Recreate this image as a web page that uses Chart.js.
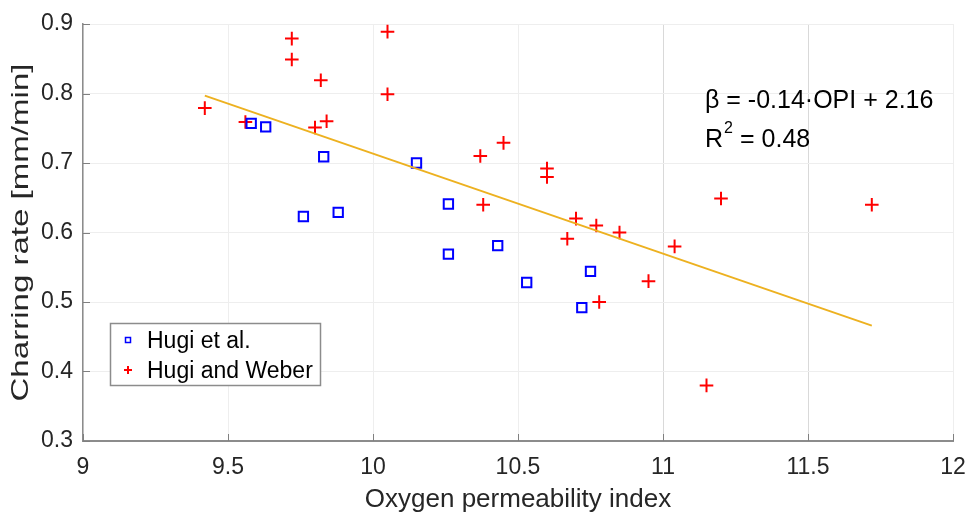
<!DOCTYPE html>
<html>
<head>
<meta charset="utf-8">
<script src="https://cdn.jsdelivr.net/npm/chart.js@4.4.1/dist/chart.umd.min.js"></script>
<style>
  html, body { margin: 0; padding: 0; background: #fff; }
  #wrap { width: 969px; height: 515px; }
</style>
</head>
<body>
<div id="wrap"><canvas id="chart" width="969" height="515"></canvas></div>
<script>
// Hugi et al. (blue squares)
const hugiEtAlX = [9.58, 9.63, 9.83, 9.76, 9.88, 10.15, 10.26, 10.26, 10.43, 10.53, 10.75, 10.72];
const hugiEtAlY = [0.757, 0.752, 0.709, 0.623, 0.629, 0.700, 0.641, 0.569, 0.581, 0.528, 0.544, 0.492];

// Hugi and Weber (red plus)
const hugiWeberX = [9.42, 9.56, 9.72, 9.72, 9.82, 9.80, 9.84, 10.05, 10.05, 10.37, 10.45, 10.38,
                    10.60, 10.60, 10.67, 10.70, 10.77, 10.85, 11.20, 11.72, 11.04, 10.95, 10.78, 11.15];
const hugiWeberY = [0.779, 0.759, 0.879, 0.849, 0.819, 0.751, 0.760, 0.889, 0.799, 0.710, 0.729, 0.640,
                    0.692, 0.680, 0.591, 0.620, 0.610, 0.600, 0.649, 0.640, 0.580, 0.530, 0.500, 0.380];

// fitted line end points
const fitX = [9.42, 11.72];
const fitY = [0.797, 0.466];

const xTicks = [9, 9.5, 10, 10.5, 11, 11.5, 12];
const yTicks = [0.3, 0.4, 0.5, 0.6, 0.7, 0.8, 0.9];
const xTickLabels = ['9', '9.5', '10', '10.5', '11', '11.5', '12'];
const yTickLabels = ['0.3', '0.4', '0.5', '0.6', '0.7', '0.8', '0.9'];

const yTitle = 'Charring rate [mm/min]';

const FONT = '"Liberation Sans", Arial, Helvetica, sans-serif';
const TEXT = '#262626';

const toPoints = (xs, ys) => xs.map((x, i) => ({ x, y: ys[i] }));

// inward tick marks, y title, legend box and the fit equation
const extras = {
  id: 'extras',
  afterDraw(chart) {
    const { ctx, chartArea: a, scales: { x, y } } = chart;
    ctx.save();
    ctx.strokeStyle = '#808080';
    ctx.lineWidth = 1;
    ctx.beginPath();
    yTicks.forEach(v => {
      const py = Math.round(y.getPixelForValue(v)) + 0.5;
      ctx.moveTo(a.left, py); ctx.lineTo(a.left + 7, py);
    });
    xTicks.forEach(v => {
      const px = Math.round(x.getPixelForValue(v)) + 0.5;
      ctx.moveTo(px, a.bottom); ctx.lineTo(px, a.bottom - 7);
    });
    ctx.stroke();

    // y axis title (reference text is stretched along its length)
    ctx.save();
    ctx.font = '24px ' + FONT;
    ctx.fillStyle = TEXT;
    ctx.textAlign = 'center';
    ctx.textBaseline = 'alphabetic';
    const w = ctx.measureText(yTitle).width;
    ctx.translate(28, (a.top + a.bottom) / 2);
    ctx.rotate(-Math.PI / 2);
    ctx.scale(338 / w, 1);
    ctx.fillText(yTitle, 0, 0);
    ctx.restore();

    // legend
    ctx.fillStyle = '#fff';
    ctx.fillRect(110, 323, 210, 62);
    ctx.strokeStyle = '#8c8c8c';
    ctx.lineWidth = 1.5;
    ctx.strokeRect(110.5, 323.5, 210, 62);
    const ds = chart.data.datasets;
    ctx.strokeStyle = ds[0].borderColor;
    ctx.lineWidth = 1.5;
    ctx.strokeRect(125.5, 337.5, 5, 5);
    ctx.strokeStyle = ds[1].borderColor;
    ctx.lineWidth = 2;
    ctx.beginPath();
    ctx.moveTo(124, 370); ctx.lineTo(132, 370);
    ctx.moveTo(128, 366); ctx.lineTo(128, 374);
    ctx.stroke();
    ctx.fillStyle = '#000';
    ctx.font = '23px ' + FONT;
    ctx.textBaseline = 'middle';
    ctx.fillText(ds[0].label, 147, 342);
    ctx.fillText(ds[1].label, 147, 372);

    // equation
    ctx.fillStyle = '#000';
    ctx.textBaseline = 'alphabetic';
    ctx.font = '25px ' + FONT;
    ctx.fillText('\u03B2 = -0.14\u00B7OPI + 2.16', 705, 108);
    ctx.fillText('R', 705, 147);
    ctx.font = '16px ' + FONT;
    ctx.fillText('2', 724, 133);
    ctx.font = '25px ' + FONT;
    ctx.fillText('= 0.48', 740, 147);
    ctx.restore();
  }
};

new Chart(document.getElementById('chart'), {
  type: 'scatter',
  data: {
    datasets: [
      {
        label: 'Hugi et al.',
        data: toPoints(hugiEtAlX, hugiEtAlY),
        pointStyle: 'rect',
        pointRadius: 6.6,
        borderColor: '#0000ff',
        backgroundColor: 'rgba(0,0,0,0)',
        borderWidth: 2,
        order: 1
      },
      {
        label: 'Hugi and Weber',
        data: toPoints(hugiWeberX, hugiWeberY),
        pointStyle: 'cross',
        pointRadius: 6.8,
        borderColor: '#ff0000',
        backgroundColor: '#ff0000',
        borderWidth: 2,
        order: 2
      },
      {
        label: 'fit',
        data: toPoints(fitX, fitY),
        showLine: true,
        pointRadius: 0,
        borderColor: '#edb120',
        borderWidth: 2,
        order: 0
      }
    ]
  },
  options: {
    responsive: false,
    animation: false,
    layout: { padding: { top: 24, right: 16, left: 0, bottom: 0 } },
    plugins: { legend: { display: false }, tooltip: { enabled: false } },
    scales: {
      x: {
        type: 'linear',
        min: 9, max: 12,
        afterFit: s => { s.height = 74; s.paddingLeft = 0; s.paddingRight = 0; },
        afterBuildTicks: s => { s.ticks = xTicks.map(v => ({ value: v })); },
        ticks: {
          callback: (v, i) => xTickLabels[i],
          font: { family: FONT, size: 23 },
          color: TEXT,
          padding: 13,
          maxRotation: 0
        },
        grid: {
          drawTicks: false,
          color: c => (c.tick && c.tick.value >= 11 && c.tick.value < 12) ? '#d9d9d9' : '#eeeeee'
        },
        border: { color: '#8c8c8c', width: 2 },
        title: {
          display: true,
          text: 'Oxygen permeability index',
          font: { family: FONT, size: 26 },
          color: TEXT,
          padding: { top: 0, bottom: 0 }
        }
      },
      y: {
        type: 'linear',
        min: 0.3, max: 0.9,
        afterFit: s => { s.width = 83; s.paddingTop = 0; s.paddingBottom = 0; },
        afterBuildTicks: s => { s.ticks = yTicks.map(v => ({ value: v })); },
        ticks: {
          callback: (v, i) => yTickLabels[i],
          font: { family: FONT, size: 23 },
          color: TEXT,
          padding: 10
        },
        grid: { drawTicks: false, color: '#eeeeee' },
        border: { color: '#8c8c8c', width: 1.5 },
        title: { display: false }
      }
    }
  },
  plugins: [extras]
});
</script>
</body>
</html>
